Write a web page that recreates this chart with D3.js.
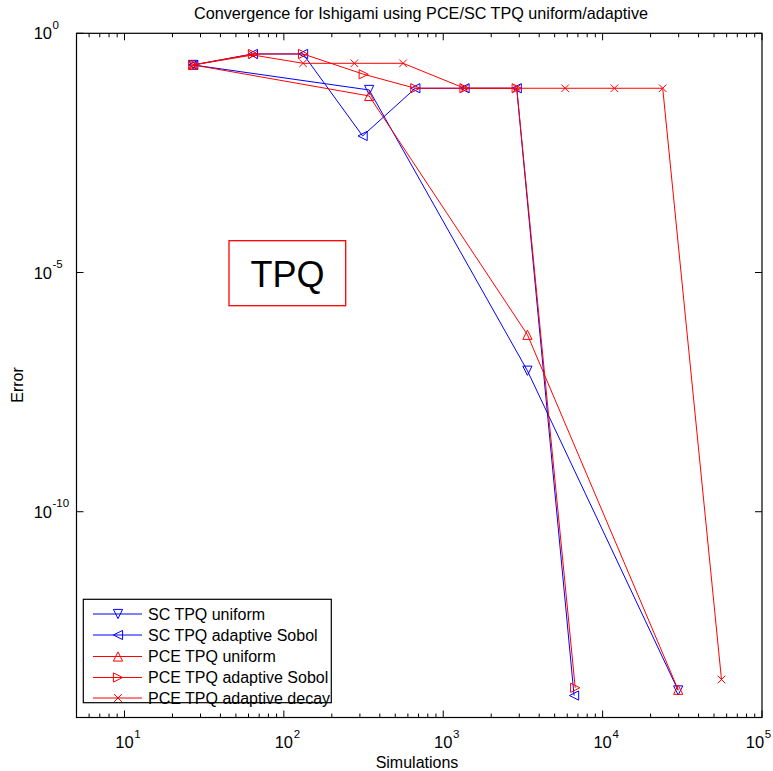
<!DOCTYPE html>
<html>
<head>
<meta charset="utf-8">
<script src="https://cdn.jsdelivr.net/npm/d3@7"></script>
<style>
  html, body { margin: 0; padding: 0; background: #fff; }
  svg { display: block; font-family: "Liberation Sans", Arial, Helvetica, sans-serif; }
</style>
</head>
<body>
<svg id="chart" width="773" height="771"></svg>
<script>
// Number of simulations (x) and error (y) for each method
const scUniformN = [27, 343, 3375, 29791];
const scUniformErr = [0.218, 0.0654, 8.85e-8, 1.84e-14];

const scAdaptiveN = [27, 64, 132, 312, 668, 1360, 2891, 6620];
const scAdaptiveErr = [0.218, 0.370, 0.370, 0.00716, 0.071, 0.071, 0.071, 1.44e-14];

const pceUniformN = [27, 343, 3375, 29791];
const pceUniformErr = [0.218, 0.049, 5.0e-7, 1.9e-14];

const pceAdaptiveN = [27, 64, 132, 317, 668, 1360, 2891, 6730];
const pceAdaptiveErr = [0.218, 0.370, 0.370, 0.139, 0.071, 0.071, 0.071, 2.09e-14];

const pceDecayN = [27, 64, 132, 277, 560, 1360, 2891, 5820, 11860, 23830, 55700];
const pceDecayErr = [0.218, 0.352, 0.236, 0.236, 0.236, 0.071, 0.071, 0.071, 0.071, 0.071, 3.11e-14];

const seriesNames = ["SC TPQ uniform", "SC TPQ adaptive Sobol", "PCE TPQ uniform", "PCE TPQ adaptive Sobol", "PCE TPQ adaptive decay"];

const xTickExp = [1, 2, 3, 4, 5];
const yTickExp = [0, -5, -10];

const series = [
  { name: seriesNames[0], n: scUniformN, err: scUniformErr, color: "#0000ff", marker: "down" },
  { name: seriesNames[1], n: scAdaptiveN, err: scAdaptiveErr, color: "#0000ff", marker: "left" },
  { name: seriesNames[2], n: pceUniformN, err: pceUniformErr, color: "#ff0000", marker: "up" },
  { name: seriesNames[3], n: pceAdaptiveN, err: pceAdaptiveErr, color: "#ff0000", marker: "right" },
  { name: seriesNames[4], n: pceDecayN, err: pceDecayErr, color: "#ff0000", marker: "cross" }
];

const svg = d3.select("#chart");
const W = 773;
const plotL = 76.5, plotR = 762, plotT = 33.3, plotB = 717.5;

const x = d3.scaleLog().domain([5, 1e5]).range([plotL, plotR]);
const y = d3.scaleLog().domain([5e-15, 1]).range([plotB, plotT]);

function markerPath(type) {
  const s = 4.6;
  switch (type) {
    case "up": return `M0,${-s}L${s},${s}L${-s},${s}Z`;
    case "down": return `M0,${s}L${s},${-s}L${-s},${-s}Z`;
    case "left": return `M${-s},0L${s},${-s}L${s},${s}Z`;
    case "right": return `M${s},0L${-s},${-s}L${-s},${s}Z`;
    default: { const c = 3.8; return `M${-c},${-c}L${c},${c}M${-c},${c}L${c},${-c}`; }
  }
}

// Plot background
svg.append("rect")
  .attr("x", plotL).attr("y", plotT)
  .attr("width", plotR - plotL).attr("height", plotB - plotT)
  .attr("fill", "#fff");

// Data lines and markers
const line = d3.line().x(d => x(d[0])).y(d => y(d[1]));
series.forEach(s => {
  const pts = s.n.map((v, i) => [v, s.err[i]]);
  const g = svg.append("g");
  g.append("path")
    .attr("d", line(pts))
    .attr("fill", "none")
    .attr("stroke", s.color)
    .attr("stroke-width", 1);
  g.selectAll("path.m").data(pts).join("path")
    .attr("class", "m")
    .attr("transform", d => `translate(${x(d[0])},${y(d[1])})`)
    .attr("d", markerPath(s.marker))
    .attr("fill", "none")
    .attr("stroke", s.color)
    .attr("stroke-width", 1);
});

// Axes box outline
svg.append("rect")
  .attr("x", plotL).attr("y", plotT)
  .attr("width", plotR - plotL).attr("height", plotB - plotT)
  .attr("fill", "none").attr("stroke", "#000").attr("stroke-width", 1.2);

// X ticks (major + minor) on bottom and top, pointing inward
const xMinor = [];
for (let e = 0; e <= 4; e++) {
  for (let m = 2; m <= 9; m++) {
    const v = m * Math.pow(10, e);
    if (v >= 5 && v <= 1e5) xMinor.push(v);
  }
}
const tickG = svg.append("g").attr("stroke", "#000").attr("stroke-width", 1);
xMinor.forEach(v => {
  tickG.append("line").attr("x1", x(v)).attr("x2", x(v)).attr("y1", plotB).attr("y2", plotB - 4);
  tickG.append("line").attr("x1", x(v)).attr("x2", x(v)).attr("y1", plotT).attr("y2", plotT + 4);
});
xTickExp.forEach(e => {
  const v = Math.pow(10, e);
  tickG.append("line").attr("x1", x(v)).attr("x2", x(v)).attr("y1", plotB).attr("y2", plotB - 7);
  tickG.append("line").attr("x1", x(v)).attr("x2", x(v)).attr("y1", plotT).attr("y2", plotT + 7);
});
yTickExp.forEach(e => {
  const v = Math.pow(10, e);
  tickG.append("line").attr("x1", plotL).attr("x2", plotL + 7).attr("y1", y(v)).attr("y2", y(v));
  tickG.append("line").attr("x1", plotR).attr("x2", plotR - 7).attr("y1", y(v)).attr("y2", y(v));
});

// X tick labels: "10" centred on the tick, exponent to its upper right;
// the last label is nudged left so it stays inside the page
xTickExp.forEach(e => {
  const px = Math.min(x(Math.pow(10, e)), W - 18);
  svg.append("text").attr("x", px).attr("y", 748)
    .attr("text-anchor", "middle").attr("font-size", 16.5).text("10");
  svg.append("text").attr("x", px + 9.8).attr("y", 738)
    .attr("font-size", 11.5).text(String(e));
});

// Y tick labels
yTickExp.forEach(e => {
  const py = y(Math.pow(10, e));
  svg.append("text").attr("x", 52).attr("y", py + 6)
    .attr("text-anchor", "end").attr("font-size", 16.5).text("10");
  svg.append("text").attr("x", 52.5).attr("y", py - 4.5)
    .attr("font-size", 11.5).text(String(e));
});

// Title and axis labels
svg.append("text").attr("x", 421).attr("y", 19)
  .attr("text-anchor", "middle").attr("font-size", 16.2)
  .text("Convergence for Ishigami using PCE/SC TPQ uniform/adaptive");
svg.append("text").attr("x", 417).attr("y", 768)
  .attr("text-anchor", "middle").attr("font-size", 16).text("Simulations");
svg.append("text")
  .attr("transform", "translate(23,385) rotate(-90)")
  .attr("text-anchor", "middle").attr("font-size", 16).text("Error");

// Annotation box
svg.append("rect").attr("x", 229).attr("y", 240.7).attr("width", 116.7).attr("height", 65)
  .attr("fill", "#fff").attr("stroke", "#ff0000").attr("stroke-width", 1.3);
svg.append("text").attr("x", 287.5).attr("y", 287)
  .attr("text-anchor", "middle").attr("font-size", 36).text("TPQ");

// Legend
const lg = svg.append("g");
lg.append("rect").attr("x", 83.3).attr("y", 599.3).attr("width", 248).attr("height", 103.4)
  .attr("fill", "#fff").attr("stroke", "#000").attr("stroke-width", 1.2);
const rowY = [614, 635, 656.5, 677.5, 698];
series.forEach((s, i) => {
  const ry = rowY[i];
  lg.append("line").attr("x1", 93).attr("x2", 142).attr("y1", ry).attr("y2", ry)
    .attr("stroke", s.color).attr("stroke-width", 1);
  lg.append("path").attr("transform", `translate(118,${ry})`)
    .attr("d", markerPath(s.marker))
    .attr("fill", "none").attr("stroke", s.color).attr("stroke-width", 1);
  lg.append("text").attr("x", 148).attr("y", ry + 5.5)
    .attr("font-size", 16).text(s.name);
});
</script>
</body>
</html>
